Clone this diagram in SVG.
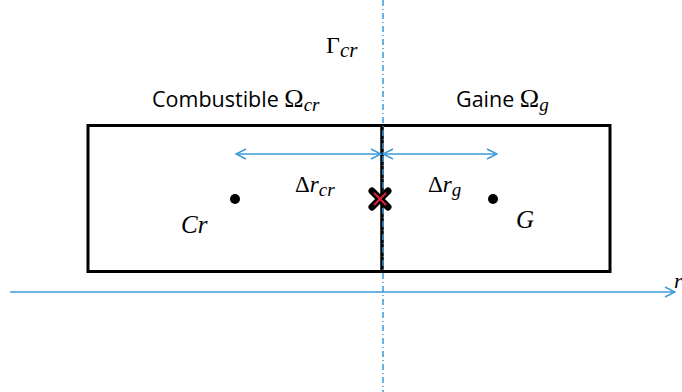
<svg xmlns="http://www.w3.org/2000/svg" width="682" height="392" viewBox="0 0 682 392">
<style>
.box{fill:none;stroke:#000;stroke-width:3}
.blue{stroke:#3a9ad6;stroke-width:1.5;fill:none}
.lbl{font-family:"Open Sans","Liberation Sans",sans-serif;font-size:21.5px;fill:#000}
.m{font-family:"Liberation Serif","DejaVu Serif",serif;fill:#000}
.i{font-style:italic}
</style>
<defs>
<marker id="oa" viewBox="0 0 12 12" refX="11" refY="6" markerWidth="12" markerHeight="12" markerUnits="userSpaceOnUse" orient="auto-start-reverse">
<path d="M1 1 L11 6 L1 11" fill="none" stroke="#3a9ad6" stroke-width="1.5"/>
</marker>
</defs>
<rect width="682" height="392" fill="#fff"/>
<g id="combustible">
<rect class="box" x="88" y="125.5" width="294" height="146"/>
<text class="lbl" x="152" y="107">Combustible <tspan class="m" font-size="26">Ω</tspan><tspan class="m i" font-size="19" dy="4">cr</tspan></text>
</g>
<g id="gaine">
<rect class="box" x="382" y="125.5" width="228" height="146"/>
<text class="lbl" x="456" y="107">Gaine <tspan class="m" font-size="26">Ω</tspan><tspan class="m i" font-size="19" dy="4">g</tspan></text>
</g>
<g id="point-cr">
<circle cx="235" cy="199" r="5" fill="#000"/>
<text class="m i" x="181" y="233" font-size="25">Cr</text>
</g>
<g id="point-g">
<circle cx="493" cy="199" r="5" fill="#000"/>
<text class="m i" x="516" y="228" font-size="25">G</text>
</g>
<g id="gamma">
<text class="m" x="326" y="53" font-size="24">Γ<tspan class="i" font-size="21" dy="4">cr</tspan></text>
</g>
<g id="connectors">
<line x1="383" y1="0" x2="383" y2="392" stroke="#3a9ad6" stroke-width="1.5" stroke-dasharray="6 3 1 3"/>
<line class="blue" x1="10" y1="292" x2="675" y2="292" marker-end="url(#oa)"/>
<line class="blue" x1="236" y1="154" x2="381" y2="154" marker-start="url(#oa)" marker-end="url(#oa)"/>
<line class="blue" x1="383" y1="154" x2="497" y2="154" marker-start="url(#oa)" marker-end="url(#oa)"/>
<text class="m" x="295" y="192" font-size="23">Δ<tspan class="i">r</tspan><tspan class="i" font-size="19" dy="4">cr</tspan></text>
<text class="m" x="428" y="192" font-size="23">Δ<tspan class="i">r</tspan><tspan class="i" font-size="19" dy="4">g</tspan></text>
<text class="m i" x="674" y="288" font-size="22">r</text>
</g>
<g id="interface-point">
<path d="M372 191 L388 207 M388 191 L372 207" stroke="#000" stroke-width="7" stroke-linecap="round"/>
<path d="M374 193 L386 205 M386 193 L374 205" stroke="#e0203a" stroke-width="2"/>
</g>
</svg>
